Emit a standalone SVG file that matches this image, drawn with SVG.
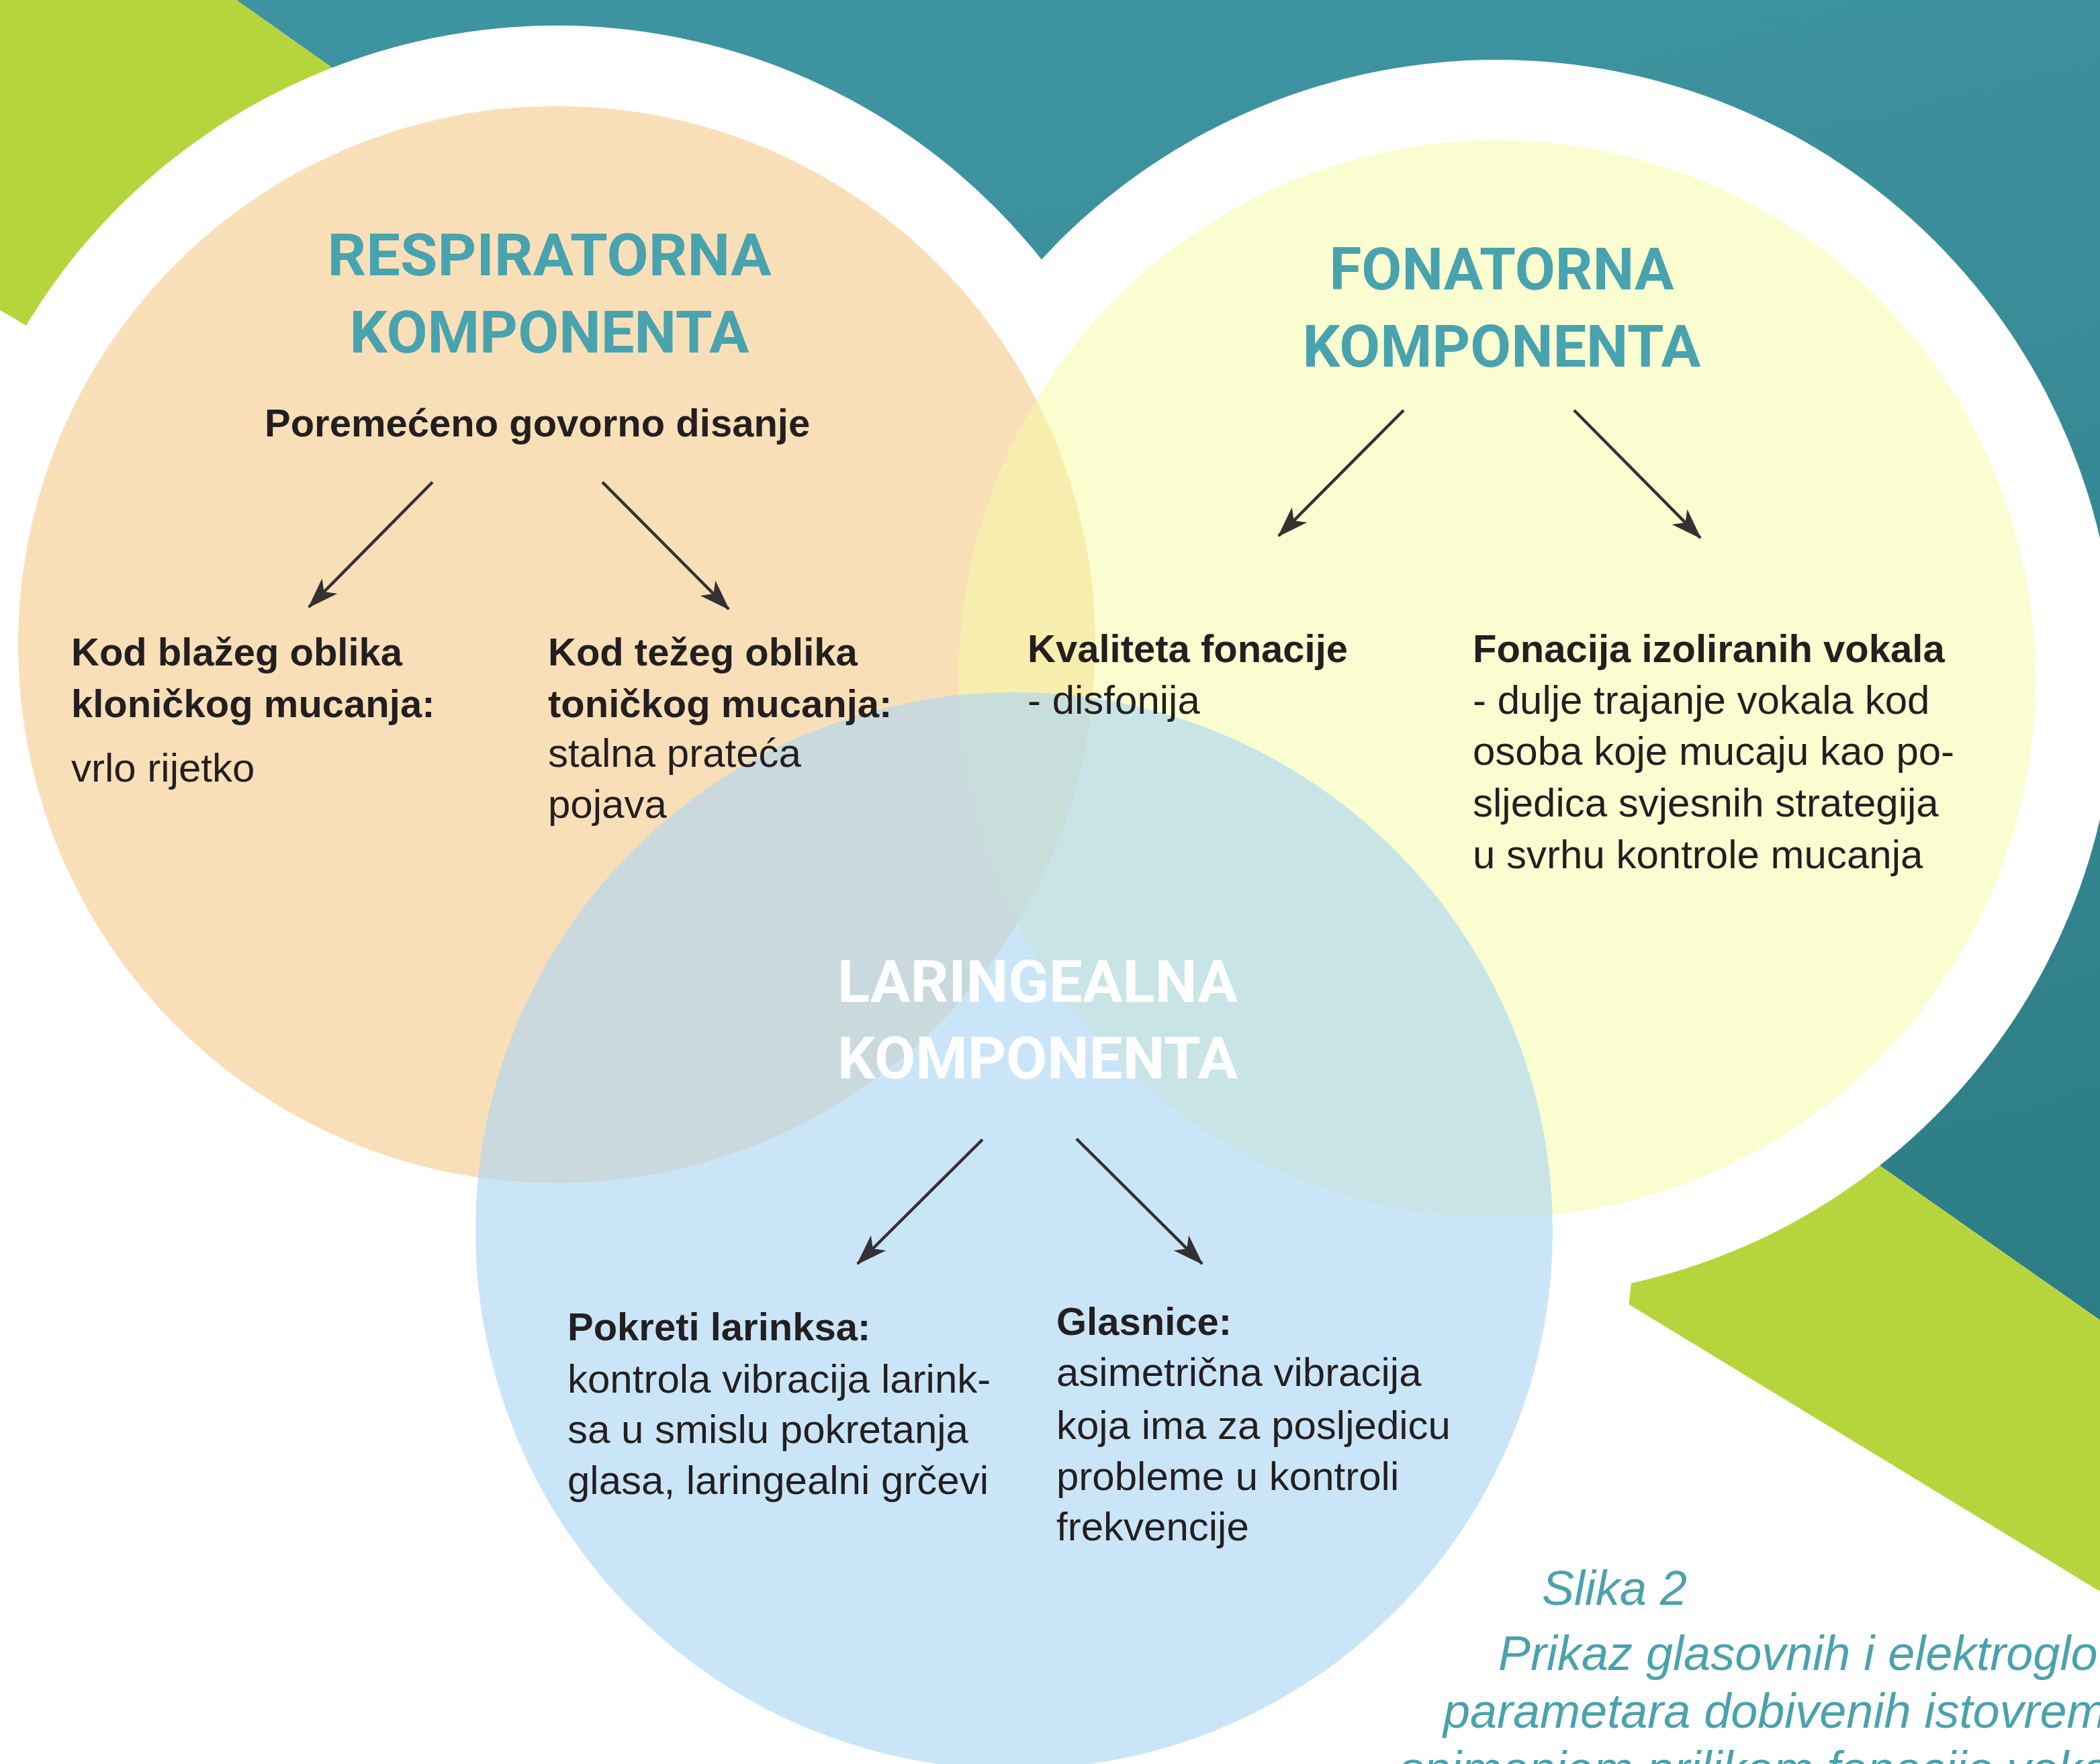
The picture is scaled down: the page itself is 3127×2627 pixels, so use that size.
<svg xmlns="http://www.w3.org/2000/svg" width="3127" height="2627" viewBox="0 0 3127 2627">
  <defs>
    <linearGradient id="tealGrad" gradientUnits="userSpaceOnUse" x1="2200" y1="0" x2="2700" y2="2000">
      <stop offset="0" stop-color="#3E93A0"/>
      <stop offset="1" stop-color="#2D7D86"/>
    </linearGradient>
    <marker id="arrow" viewBox="0 0 46 32" refX="44" refY="16" markerWidth="46" markerHeight="32" markerUnits="userSpaceOnUse" orient="auto">
      <path d="M0,0 L46,16 L0,32 L12,16 Z" fill="#333132"/>
    </marker>
    <style>
      .title { font-family: Roboto, "Liberation Sans", sans-serif; font-weight: 700; font-size: 88px; fill: #48A3AE; text-anchor: middle; }
      .title.white { fill: #FFFFFF; }
      .bold { font-family: "Liberation Sans", Arial, sans-serif; font-weight: 700; font-size: 58px; fill: #231F20; }
      .reg { font-family: "Liberation Sans", Arial, sans-serif; font-weight: 400; font-size: 60px; fill: #231F20; }
      .cap { font-family: "Liberation Sans", Arial, sans-serif; font-style: italic; font-size: 72px; fill: #4AA2AD; }
      .ring { fill: #FFFFFF; }
      .conn line { stroke: #333132; stroke-width: 4.5; marker-end: url(#arrow); }
    </style>
  </defs>

  <!-- background -->
  <rect x="0" y="0" width="3127" height="2627" fill="#FFFFFF"/>
  <g id="background">
    <polygon points="352,0 3127,0 3127,1966 2500,1526 1550,900 700,246" fill="url(#tealGrad)"/>
    <polygon points="0,0 352,0 700,246 300,636 0,462" fill="#B6D53D"/>
    <polygon points="2300,1866 2500,1526 3127,1966 3127,2370" fill="#B6D53D"/>
    <circle class="ring" cx="829" cy="960" r="922"/>
    <circle class="ring" cx="2229" cy="1011" r="922"/>
    <circle class="ring" cx="1510" cy="1833" r="922"/>
  </g>

  <!-- respiratorna -->
  <g id="respiratorna">
    <circle cx="829" cy="960" r="802" fill="#F9DFB8"/>
  </g>
  <!-- fonatorna -->
  <g id="fonatorna">
    <circle cx="2229" cy="1011" r="802" fill="#F5FBA1" fill-opacity="0.5"/>
  </g>
  <!-- laringealna -->
  <g id="laringealna">
    <circle cx="1510" cy="1833" r="802" fill="#ACD6F4" fill-opacity="0.63"/>
  </g>

  <g id="respiratorna-text">
    <text class="title" x="818" y="410" textLength="661" lengthAdjust="spacingAndGlyphs">RESPIRATORNA</text>
    <text class="title" x="818" y="525" textLength="595" lengthAdjust="spacingAndGlyphs">KOMPONENTA</text>
    <text class="bold" x="394" y="650">Poremećeno govorno disanje</text>
    <text class="bold" x="106" y="991">Kod blažeg oblika</text>
    <text class="bold" x="106" y="1068">kloničkog mucanja:</text>
    <text class="reg" x="106" y="1164">vrlo rijetko</text>
    <text class="bold" x="816" y="991">Kod težeg oblika</text>
    <text class="bold" x="816" y="1068">toničkog mucanja:</text>
    <text class="reg" x="816" y="1142">stalna prateća</text>
    <text class="reg" x="816" y="1218">pojava</text>
  </g>

  <g id="fonatorna-text">
    <text class="title" x="2236" y="431" textLength="513" lengthAdjust="spacingAndGlyphs">FONATORNA</text>
    <text class="title" x="2236" y="546" textLength="593" lengthAdjust="spacingAndGlyphs">KOMPONENTA</text>
    <text class="bold" x="1530" y="986">Kvaliteta fonacije</text>
    <text class="reg" x="1530" y="1063">- disfonija</text>
    <text class="bold" x="2193" y="986">Fonacija izoliranih vokala</text>
    <text class="reg" x="2193" y="1063">- dulje trajanje vokala kod</text>
    <text class="reg" x="2193" y="1139">osoba koje mucaju kao po-</text>
    <text class="reg" x="2193" y="1216">sljedica svjesnih strategija</text>
    <text class="reg" x="2193" y="1293">u svrhu kontrole mucanja</text>
  </g>

  <g id="laringealna-text">
    <text class="title white" x="1545" y="1492" textLength="596" lengthAdjust="spacingAndGlyphs">LARINGEALNA</text>
    <text class="title white" x="1545" y="1606" textLength="596" lengthAdjust="spacingAndGlyphs">KOMPONENTA</text>
    <text class="bold" x="845" y="1996">Pokreti larinksa:</text>
    <text class="reg" x="845" y="2074">kontrola vibracija larink-</text>
    <text class="reg" x="845" y="2149">sa u smislu pokretanja</text>
    <text class="reg" x="845" y="2225">glasa, laringealni grčevi</text>
    <text class="bold" x="1573" y="1988">Glasnice:</text>
    <text class="reg" x="1573" y="2064">asimetrična vibracija</text>
    <text class="reg" x="1573" y="2143">koja ima za posljedicu</text>
    <text class="reg" x="1573" y="2219">probleme u kontroli</text>
    <text class="reg" x="1573" y="2294">frekvencije</text>
  </g>

  <g id="connectors" class="conn">
    <line x1="644" y1="718" x2="460" y2="904"/>
    <line x1="897" y1="718" x2="1085" y2="907"/>
    <line x1="2090" y1="611" x2="1904" y2="798"/>
    <line x1="2344" y1="611" x2="2532" y2="801"/>
    <line x1="1463" y1="1697" x2="1277" y2="1882"/>
    <line x1="1603" y1="1696" x2="1790" y2="1882"/>
  </g>

  <g id="caption">
    <text class="cap" x="2296" y="2390">Slika 2</text>
    <text class="cap" x="2231" y="2487">Prikaz glasovnih i elektroglotografskih</text>
    <text class="cap" x="2149" y="2573">parametara dobivenih istovremenim</text>
    <text class="cap" x="2084" y="2659">snimanjem prilikom fonacije vokala</text>
  </g>
</svg>
